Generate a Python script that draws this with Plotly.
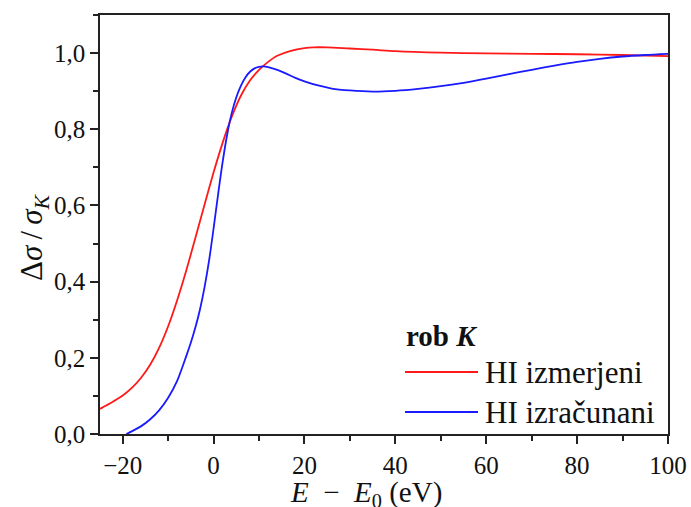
import plotly.graph_objects as go

# Measured K-edge profile (HI)
x_meas = [-25, -22, -20, -18, -16, -14, -12, -10, -8, -6, -4, -2, 0, 2, 4, 6, 8, 10,
          12, 14, 17, 20, 22, 25, 30, 35, 40, 50, 60, 70, 80, 90, 100]
y_meas = [0.066, 0.086, 0.101, 0.121, 0.147, 0.181, 0.226, 0.283, 0.352, 0.430, 0.515,
          0.602, 0.687, 0.765, 0.833, 0.888, 0.928, 0.956, 0.977, 0.993, 1.006, 1.013,
          1.015, 1.015, 1.012, 1.009, 1.005, 1.001, 0.999, 0.998, 0.997, 0.995, 0.992]

# Calculated K-edge profile (HI)
x_calc = [-19.2, -18, -16, -14, -12, -10, -8, -6, -5, -4, -3, -2, -1, 0, 1, 2, 3, 4, 5,
          6, 7, 8, 9, 10, 11, 12, 14, 16, 18, 20, 23, 26, 30, 35, 40, 45, 50, 55, 60,
          65, 70, 75, 80, 85, 90, 95, 100]
y_calc = [0.0, 0.007, 0.020, 0.038, 0.062, 0.095, 0.140, 0.205, 0.240, 0.280, 0.327,
          0.385, 0.455, 0.540, 0.630, 0.715, 0.787, 0.843, 0.884, 0.914, 0.936, 0.951,
          0.960, 0.964, 0.965, 0.963, 0.956, 0.946, 0.935, 0.926, 0.915, 0.907, 0.902,
          0.899, 0.901, 0.906, 0.913, 0.922, 0.933, 0.945, 0.956, 0.967, 0.977, 0.985,
          0.991, 0.995, 0.998]

series_names = ["HI izmerjeni", "HI izračunani"]
series_colors = ["#ff1a1a", "#1a1aff"]
legend_title = "<b>rob <i>K</i></b>"
x_title = "<i>E</i>\u2002−\u2002<i>E</i><sub>0</sub> (eV)"
y_title = "Δ<i>σ</i>\u2009/\u2009<i>σ</i><sub><i>K</i></sub>"

FONT = "Liberation Serif, Times New Roman, serif"
L, R, T, B = 100, 23, 15, 73
W, H = 691, 507
pw, ph = W - L - R, H - T - B

fig = go.Figure()
for xs, ys, name, col in zip([x_meas, x_calc], [y_meas, y_calc], series_names, series_colors):
    fig.add_trace(go.Scatter(x=xs, y=ys, mode="lines", name=name,
                             line=dict(color=col, width=1.8, shape="spline", smoothing=0.8),
                             showlegend=False))

axis_common = dict(
    showline=True, linecolor="#222", linewidth=1.6, mirror=True,
    ticks="outside", ticklen=8, tickwidth=1.5, tickcolor="#222",
    showgrid=False, zeroline=False,
    tickfont=dict(family=FONT, size=25, color="#111"),
)

fig.update_xaxes(range=[-25, 100], tickvals=[-20, 0, 20, 40, 60, 80, 100],
                 minor=dict(dtick=10, tick0=0, ticks="outside", ticklen=5, tickwidth=1.5, tickcolor="#222"),
                 **axis_common)
fig.update_yaxes(range=[0, 1.1], tickvals=[0, 0.2, 0.4, 0.6, 0.8, 1.0], tickformat=".1f",
                 minor=dict(dtick=0.1, tick0=0, ticks="outside", ticklen=5, tickwidth=1.5, tickcolor="#222"),
                 **axis_common)


def px_x(p):
    return (p - L) / pw


def px_y(p):
    return (H - B - p) / ph


# Axis titles
fig.add_annotation(xref="paper", yref="paper", x=px_x(366), y=px_y(475),
                   xanchor="center", yanchor="top", showarrow=False, borderpad=0,
                   text=x_title, font=dict(family=FONT, size=29, color="#111"))
fig.add_annotation(xref="paper", yref="paper", x=px_x(12), y=px_y(237),
                   xanchor="left", yanchor="middle", showarrow=False, textangle=-90,
                   text=y_title, font=dict(family=FONT, size=31, color="#111"))

# Legend block with long line samples
legend_rows = [372, 412]
for name, col, ry in zip(series_names, series_colors, legend_rows):
    fig.add_shape(type="line", xref="paper", yref="paper",
                  x0=px_x(405), x1=px_x(478), y0=px_y(ry), y1=px_y(ry),
                  line=dict(color=col, width=1.8))
    fig.add_annotation(xref="paper", yref="paper", x=px_x(483), y=px_y(ry),
                       xanchor="left", yanchor="middle", showarrow=False,
                       text=name, font=dict(family=FONT, size=31, color="#111"))
fig.add_annotation(xref="paper", yref="paper", x=px_x(404), y=px_y(336),
                   xanchor="left", yanchor="middle", showarrow=False,
                   text=legend_title, font=dict(family=FONT, size=29, color="#111"))

fig.update_layout(
    width=W, height=H,
    margin=dict(l=L, r=R, t=T, b=B, autoexpand=False),
    paper_bgcolor="white", plot_bgcolor="white",
    separators=",.",
    showlegend=False,
)

fig.write_html("out.html")
